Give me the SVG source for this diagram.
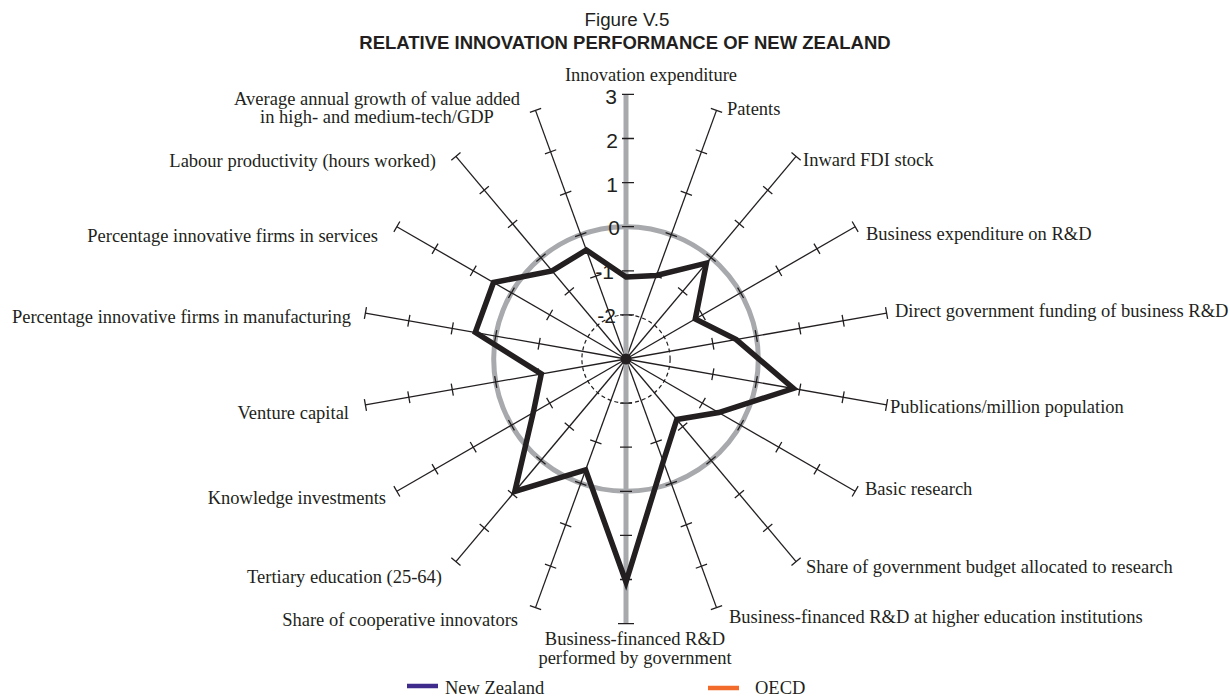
<svg xmlns="http://www.w3.org/2000/svg" xmlns:xlink="http://www.w3.org/1999/xlink" width="1230" height="698" viewBox="0 0 1230 698">
<style>
.lbl{font-family:"Liberation Serif","Times New Roman",serif;font-size:18.5px;fill:#231f20}
.num{font-family:"Liberation Sans",Arial,sans-serif;font-size:21px;fill:#231f20;text-anchor:end}
.t1{font-family:"Liberation Sans",Arial,sans-serif;font-size:18.8px;fill:#231f20;text-anchor:middle}
.t2{font-family:"Liberation Sans",Arial,sans-serif;font-size:18.5px;font-weight:bold;fill:#231f20;text-anchor:middle}
.sp{stroke:#231f20;stroke-width:1.3;fill:none}
.mid{text-anchor:middle}
.end{text-anchor:end}
</style>
<defs>
<g id="spoke" class="sp">
<line x1="626" y1="359" x2="626" y2="94.4"/>
<path d="M620 94.4H632M620 138.5H632M620 182.6H632M620 226.7H632M620 270.8H632"/>
</g>
</defs>
<rect width="1230" height="698" fill="#ffffff"/>
<g id="title">
<text class="t1" x="627" y="26">Figure V.5</text>
<text class="t2" x="625" y="49">RELATIVE INNOVATION PERFORMANCE OF NEW ZEALAND</text>
</g>
<g id="grid">
<circle cx="626" cy="359" r="132.3" fill="none" stroke="#a7a9ac" stroke-width="5"/>
<circle cx="626" cy="359" r="44.1" fill="none" stroke="#231f20" stroke-width="1.2" stroke-dasharray="4 3"/>
<use xlink:href="#spoke" transform="rotate(20 626 359)"/>
<use xlink:href="#spoke" transform="rotate(40 626 359)"/>
<use xlink:href="#spoke" transform="rotate(60 626 359)"/>
<use xlink:href="#spoke" transform="rotate(80 626 359)"/>
<use xlink:href="#spoke" transform="rotate(100 626 359)"/>
<use xlink:href="#spoke" transform="rotate(120 626 359)"/>
<use xlink:href="#spoke" transform="rotate(140 626 359)"/>
<use xlink:href="#spoke" transform="rotate(160 626 359)"/>
<use xlink:href="#spoke" transform="rotate(200 626 359)"/>
<use xlink:href="#spoke" transform="rotate(220 626 359)"/>
<use xlink:href="#spoke" transform="rotate(240 626 359)"/>
<use xlink:href="#spoke" transform="rotate(260 626 359)"/>
<use xlink:href="#spoke" transform="rotate(280 626 359)"/>
<use xlink:href="#spoke" transform="rotate(300 626 359)"/>
<use xlink:href="#spoke" transform="rotate(320 626 359)"/>
<use xlink:href="#spoke" transform="rotate(340 626 359)"/>
<line x1="626" y1="94" x2="626" y2="624" stroke="#a7a9ac" stroke-width="5"/>
<path class="sp" d="M622 94.4H634M622 138.5H634M622 182.6H634M622 226.7H634M622 270.8H634M620 314.9H634M620 403.1H632M620 447.2H632M620 491.3H632M620 535.4H632M620 579.5H632M618 623.6H634"/>
</g>
<g id="scale">
<text class="num" x="617" y="104">3</text>
<text class="num" x="618" y="148">2</text>
<text class="num" x="618" y="192">1</text>
<text class="num" x="620" y="235">0</text>
<text class="num" x="614" y="279">-1</text>
<text class="num" x="616" y="323">-2</text>
</g>
<g id="series-nz">
<polygon points="626,277 656.4,275.4 706.4,263.2 695.3,319 736.3,339.6 793.4,388.5 718.7,412.5 676.8,419.5 663.3,461.4 626,582 585.6,469.9 514.8,491.5 533.3,412.5 541.3,373.9 475.3,332.4 493.5,282.5 552.1,270.9 586.3,250" fill="none" stroke="#231f20" stroke-width="5.5" stroke-linejoin="miter" stroke-miterlimit="10"/>
<circle cx="626" cy="359" r="5.5" fill="#231f20"/>
</g>
<g id="labels" class="lbl">
<text class="lbl mid" x="651" y="81">Innovation expenditure</text>
<text class="lbl" x="727" y="115">Patents</text>
<text class="lbl" x="803" y="166">Inward FDI stock</text>
<text class="lbl" x="866" y="240">Business expenditure on R&amp;D</text>
<text class="lbl" x="895" y="317">Direct government funding of business R&amp;D</text>
<text class="lbl" x="890" y="413">Publications/million population</text>
<text class="lbl" x="865" y="495">Basic research</text>
<text class="lbl" x="806" y="573">Share of government budget allocated to research</text>
<text class="lbl" x="729" y="623">Business-financed R&amp;D at higher education institutions</text>
<text class="lbl mid" x="635" y="645">Business-financed R&amp;D</text>
<text class="lbl mid" x="635" y="664">performed by government</text>
<text class="lbl end" x="518" y="626">Share of cooperative innovators</text>
<text class="lbl end" x="442" y="583">Tertiary education (25-64)</text>
<text class="lbl end" x="386" y="504">Knowledge investments</text>
<text class="lbl end" x="349" y="419">Venture capital</text>
<text class="lbl end" x="351" y="323">Percentage innovative firms in manufacturing</text>
<text class="lbl end" x="378" y="242">Percentage innovative firms in services</text>
<text class="lbl end" x="436" y="167">Labour productivity (hours worked)</text>
<text class="lbl mid" x="377" y="105">Average annual growth of value added</text>
<text class="lbl mid" x="377" y="123">in high- and medium-tech/GDP</text>
</g>
<g id="legend">
<line x1="407" y1="686" x2="438" y2="686" stroke="#3f2b8c" stroke-width="4.5"/>
<text class="lbl" x="445" y="694">New Zealand</text>
<line x1="708" y1="688" x2="739" y2="688" stroke="#f26b2a" stroke-width="4.5"/>
<text class="lbl" x="755" y="694">OECD</text>
</g>
</svg>
